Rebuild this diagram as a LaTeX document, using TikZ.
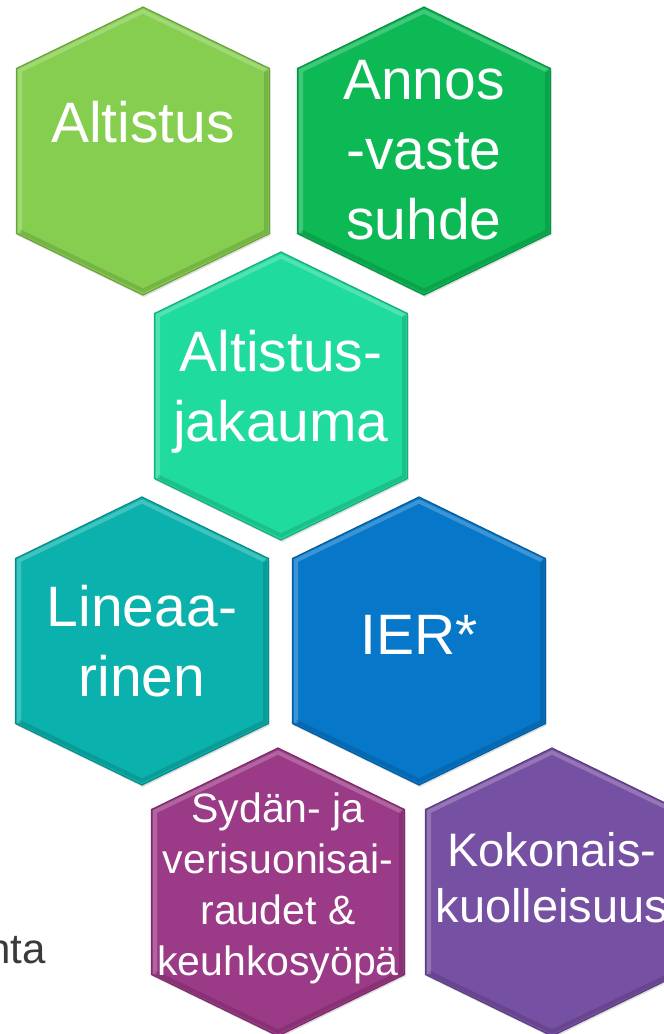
\documentclass[tikz,border=0pt]{standalone}
\usepackage{fontspec}
\setmainfont{Liberation Sans}
\usetikzlibrary{shadows}

\definecolor{altistusgreen}{HTML}{86CE4F}
\definecolor{annosgreen}{HTML}{0CB955}
\definecolor{jakaumamint}{HTML}{1FDB9E}
\definecolor{lineaarteal}{HTML}{0BB2AD}
\definecolor{ierblue}{HTML}{0677C9}
\definecolor{sydanmagenta}{HTML}{9B3A86}
\definecolor{kokonaispurple}{HTML}{7650A3}
\definecolor{slidegray}{HTML}{3A3A3A}

\tikzset{hexbox/.style={fill=#1, draw=#1!78!black, line width=1.2pt,
    drop shadow={opacity=0.25, shadow xshift=1pt, shadow yshift=-2pt}}}
\tikzset{hexshape/.style={insert path={+(0,-144) -- +(126.5,-82.5) -- +(126.5,82.5) -- +(0,144) -- +(-126.5,82.5) -- +(-126.5,-82.5) -- cycle}}}
% bevel look: light rim on top, dark rim below
\tikzset{toprim/.style={draw=white, opacity=0.22, line width=4pt, line join=miter,
    insert path={+(-123,82) -- +(-123,-80.5) -- +(0,-139.5) -- +(123,-80.5)}}}
\tikzset{bottomrim/.style={draw=black, opacity=0.12, line width=4pt, line join=miter,
    insert path={+(123,-80.5) -- +(123,80.5) -- +(0,139.5) -- +(-123,80.5)}}}
\tikzstyle{bigtext} = [text=white, align=center, inner sep=0pt, font=\fontsize{57}{70}\selectfont]
\tikzstyle{midtext} = [text=white, align=center, inner sep=0pt, font=\fontsize{47}{56}\selectfont]
\tikzstyle{smalltext} = [text=white, align=center, inner sep=0pt, font=\fontsize{41}{51}\selectfont]

\begin{document}
\begin{tikzpicture}[x=1pt, y=-1pt]
  \clip (0,0) rectangle (664,1034);

  % hexagon centres
  \coordinate (c_altistus) at (143,151);
  \coordinate (c_annos) at (424,151);
  \coordinate (c_jakauma) at (281,396);
  \coordinate (c_lineaar) at (142,641);
  \coordinate (c_ier) at (419,641);
  \coordinate (c_sydan) at (278,892);
  \coordinate (c_kokonais) at (552,892);

  \draw[hexbox=altistusgreen] (c_altistus) [hexshape];
  \draw[hexbox=annosgreen] (c_annos) [hexshape];
  \draw[hexbox=jakaumamint] (c_jakauma) [hexshape];
  \draw[hexbox=lineaarteal] (c_lineaar) [hexshape];
  \draw[hexbox=ierblue] (c_ier) [hexshape];
  \draw[hexbox=sydanmagenta] (c_sydan) [hexshape];
  \draw[hexbox=kokonaispurple] (c_kokonais) [hexshape];

  \foreach \c in {c_altistus,c_annos,c_jakauma,c_lineaar,c_ier,c_sydan,c_kokonais} {
    \path (\c) [toprim];
    \path (\c) [bottomrim];
  }

  \node (altistus) [bigtext] at (143,122) {Altistus};
  \node (annos) [bigtext] at (424,150) {Annos\\-vaste\\suhde};
  \node (jakauma) [bigtext] at (281,392) {Altistus-\\jakauma};
  \node (lineaar) [bigtext] at (142,641) {Lineaa-\\rinen};
  \node (ier) [bigtext] at (419,635) {IER*};
  \node (sydan) [smalltext] at (278,888) {Sydän- ja\\verisuonisai-\\raudet \&\\keuhkosyöpä};
  \node (kokonais) [midtext] at (552,878) {Kokonais-\\kuolleisuus};

  %\node (bullet) ... only the end of the slide text shows
  \node (nta) [anchor=base east, inner sep=0pt, text=slidegray, font=\fontsize{42}{50}\selectfont] at (46,963) {nta};
\end{tikzpicture}
\end{document}
